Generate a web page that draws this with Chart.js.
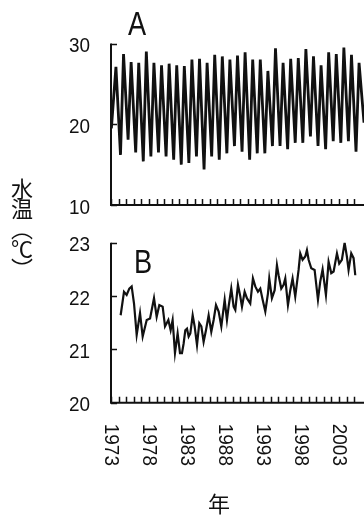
<!DOCTYPE html>
<html>
<head>
<meta charset="utf-8">
<script src="https://cdn.jsdelivr.net/npm/chart.js@4/dist/chart.umd.min.js"></script>
<style>
  html, body { margin: 0; padding: 0; background: #fff; }
  #wrap { position: relative; width: 364px; height: 516px; overflow: hidden; }
  canvas { position: absolute; left: 0; }
  #cvA { top: 0; }
  #cvB { top: 225px; }
  .ylab {
    position: absolute; left: 10px; top: 178px;
    writing-mode: vertical-rl; font-family: "Noto Sans CJK JP", sans-serif;
    font-size: 22px; line-height: 24px; letter-spacing: -2px; color: #111;
  }
  .xlab {
    position: absolute; left: 208px; top: 486px;
    font-family: "Noto Sans CJK JP", sans-serif; font-size: 22px; color: #111;
  }
</style>
</head>
<body>
<div id="wrap">
  <canvas id="cvA" width="364" height="225"></canvas>
  <canvas id="cvB" width="364" height="291"></canvas>
  <div class="ylab">水温（℃）</div>
  <div class="xlab">年</div>
</div>
<script>
// Panel A: monthly water temperature, yearly summer highs and winter lows (°C)
const summerPeaks = [27.1, 28.7, 27.7, 27.6, 29.0, 27.6, 27.3, 27.5, 27.3,
  27.2, 28.0, 28.1, 27.6, 28.6, 28.4, 28.0, 28.5, 28.9, 28.0, 28.0, 26.6,
  29.4, 27.6, 28.1, 28.2, 29.3, 28.4, 27.3, 28.9, 28.7, 29.5, 28.6, 27.6];
const winterLows = [16.2, 18.1, 16.5, 15.4, 16.0, 16.5, 16.0, 15.6, 15.0,
  15.2, 16.0, 14.4, 16.0, 15.6, 16.4, 17.3, 16.6, 15.6, 16.4, 16.4, 17.3,
  17.3, 16.9, 17.7, 17.7, 18.5, 17.3, 16.9, 17.9, 17.7, 17.9, 16.6];
const firstSummer = 1973.65;   // time of the first summer high
const firstWinter = 1974.25;   // time of the first winter low
const seriesStart = [1973.05, 19.5];
const seriesEnd = [2006.3, 20.2];

// Panel B: smoothed water temperature (decimal year, °C)
const smoothYears = [1974.27, 1974.71, 1975.06, 1975.41, 1975.72, 1976.03, 1976.38,
  1976.82, 1977.17, 1977.70, 1978.14, 1978.66, 1979.01, 1979.36, 1979.80, 1980.11,
  1980.55, 1980.85, 1981.11, 1981.42, 1981.77, 1982.08, 1982.34, 1982.56, 1982.78,
  1983.00, 1983.22, 1983.44, 1983.75, 1984.01, 1984.32, 1984.62, 1984.89, 1985.19,
  1985.50, 1985.85, 1986.20, 1986.51, 1986.82, 1987.17, 1987.52, 1987.96, 1988.26,
  1988.48, 1988.83, 1989.14, 1989.36, 1989.71, 1990.02, 1990.24, 1990.59, 1990.89,
  1991.33, 1991.68, 1991.99, 1992.34, 1992.65, 1992.96, 1993.31, 1993.66, 1993.83,
  1994.18, 1994.54, 1994.84, 1995.06, 1995.41, 1995.72, 1995.94, 1996.29, 1996.60,
  1996.90, 1997.25, 1997.69, 1997.91, 1998.22, 1998.57, 1998.79, 1999.01, 1999.36,
  1999.80, 2000.24, 2000.54, 2000.85, 2001.29, 2001.64, 2001.99, 2002.30, 2002.74,
  2003.04, 2003.39, 2003.75, 2004.05, 2004.27, 2004.62, 2004.93, 2005.15];
const smoothTemps = [21.64, 22.08, 22.02, 22.14, 22.18, 21.86, 21.27,
  21.68, 21.24, 21.55, 21.58, 21.96, 21.61, 21.83, 21.80, 21.43,
  21.55, 21.36, 21.55, 20.93, 21.30, 20.93, 20.93, 21.11, 21.36,
  21.39, 21.24, 21.30, 21.64, 21.43, 21.08, 21.49, 21.43, 21.14,
  21.36, 21.64, 21.33, 21.55, 21.83, 21.71, 21.43, 21.93, 21.55,
  21.80, 22.14, 21.80, 21.74, 22.21, 21.99, 21.80, 22.08, 21.96,
  21.86, 22.33, 22.18, 22.08, 22.14, 21.93, 21.71, 22.05, 22.33,
  21.96, 22.11, 22.58, 22.39, 22.14, 22.21, 22.33, 21.83, 22.11,
  22.33, 21.99, 22.49, 22.80, 22.68, 22.74, 22.86, 22.68, 22.52,
  22.49, 21.93, 22.27, 22.50, 22.02, 22.64, 22.43, 22.46, 22.80,
  22.61, 22.68, 23.00, 22.74, 22.49, 22.80, 22.71, 22.39];

// Axis settings
const yearMin = 1973, yearMax = 2006.3;
const yearTickFirst = 1973, yearTickLast = 2005;
const yearLabels = ['1973', '1978', '1983', '1988', '1993', '1998', '2003'];
const rangeA = [10, 30], stepA = 10;
const rangeB = [20, 23], stepB = 1;

const INK = '#111';
const AXIS_W = 111;
const FONT = '"Liberation Sans", Arial, sans-serif';

function seriesA() {
  const pts = [{x: seriesStart[0], y: seriesStart[1]}];
  for (let i = 0; i < summerPeaks.length; i++) {
    pts.push({x: firstSummer + i, y: summerPeaks[i]});
    if (i < winterLows.length) pts.push({x: firstWinter + i, y: winterLows[i]});
  }
  pts.push({x: seriesEnd[0], y: seriesEnd[1]});
  return pts;
}
function seriesB() {
  return smoothYears.map((yr, i) => ({x: yr, y: smoothTemps[i]}));
}

// Draws the L-shaped frame, inward tick marks, value labels, panel letter and year labels
const framePlugin = {
  id: 'frame',
  afterDraw(chart, args, o) {
    const {ctx, chartArea: a, scales: {x, y}} = chart;
    ctx.save();
    ctx.strokeStyle = INK;
    ctx.lineWidth = 2;
    ctx.beginPath();
    ctx.moveTo(a.left, a.top);
    ctx.lineTo(a.left, a.bottom);
    ctx.lineTo(a.right + 2, a.bottom);
    ctx.stroke();

    ctx.lineWidth = 1.5;
    ctx.beginPath();
    for (let yr = yearTickFirst; yr <= yearTickLast; yr++) {
      const px = Math.round(x.getPixelForValue(yr)) + 0.5;
      ctx.moveTo(px, a.bottom);
      ctx.lineTo(px, a.bottom - 6);
    }
    y.ticks.forEach(t => {
      const py = Math.round(y.getPixelForValue(t.value)) + 0.5;
      ctx.moveTo(a.left, py);
      ctx.lineTo(a.left + 6, py);
    });
    ctx.stroke();

    ctx.fillStyle = INK;
    // value labels, slightly condensed
    ctx.font = '21px ' + FONT;
    ctx.textAlign = 'right';
    ctx.textBaseline = 'middle';
    y.ticks.forEach(t => {
      const py = y.getPixelForValue(t.value) + 3;
      ctx.save();
      ctx.translate(90, py);
      ctx.scale(0.9, 1);
      ctx.fillText(String(t.value), 0, 0);
      ctx.restore();
    });

    // panel letter
    ctx.save();
    ctx.font = '34px ' + FONT;
    ctx.textAlign = 'center';
    ctx.textBaseline = 'alphabetic';
    ctx.translate(o.letterX, o.letterY);
    ctx.scale(0.8, 1);
    ctx.fillText(o.letter, 0, 0);
    ctx.restore();

    if (o.years) {
      ctx.font = '20px ' + FONT;
      ctx.textAlign = 'left';
      ctx.textBaseline = 'middle';
      yearLabels.forEach(lbl => {
        const px = x.getPixelForValue(Number(lbl));
        ctx.save();
        ctx.translate(px, a.bottom + 21);
        ctx.rotate(Math.PI / 2);
        ctx.scale(0.95, 1);
        ctx.fillText(lbl, 0, 0);
        ctx.restore();
      });
    }
    ctx.restore();
  }
};

function makeChart(id, data, width, range, step, topPad, xHeight, frameOpts) {
  return new Chart(document.getElementById(id), {
    type: 'line',
    data: {
      datasets: [{
        data: data,
        borderColor: INK,
        borderWidth: width,
        pointRadius: 0,
        tension: 0,
        fill: false
      }]
    },
    options: {
      responsive: false,
      animation: false,
      events: [],
      layout: {padding: {top: topPad, left: 0, right: 0, bottom: 0}},
      plugins: {legend: {display: false}, tooltip: {enabled: false}, frame: frameOpts},
      scales: {
        x: {
          type: 'linear', min: yearMin, max: yearMax,
          grid: {display: false}, border: {display: false},
          ticks: {display: false},
          afterFit(s) {
            s.height = xHeight;
            s.paddingLeft = s.paddingRight = s.paddingTop = s.paddingBottom = 0;
          }
        },
        y: {
          min: range[0], max: range[1],
          grid: {display: false, drawTicks: false}, border: {display: false},
          ticks: {stepSize: step, display: false},
          afterFit(s) {
            s.width = AXIS_W;
            s.paddingLeft = s.paddingRight = s.paddingTop = s.paddingBottom = 0;
          }
        }
      }
    },
    plugins: [framePlugin]
  });
}

makeChart('cvA', seriesA(), 2.8, rangeA, stepA, 43.5, 20,
  {letter: 'A', letterX: 137, letterY: 35, years: false});
makeChart('cvB', seriesB(), 2.2, rangeB, stepB, 17.7, 113.3,
  {letter: 'B', letterX: 143, letterY: 48, years: true});
</script>
</body>
</html>
